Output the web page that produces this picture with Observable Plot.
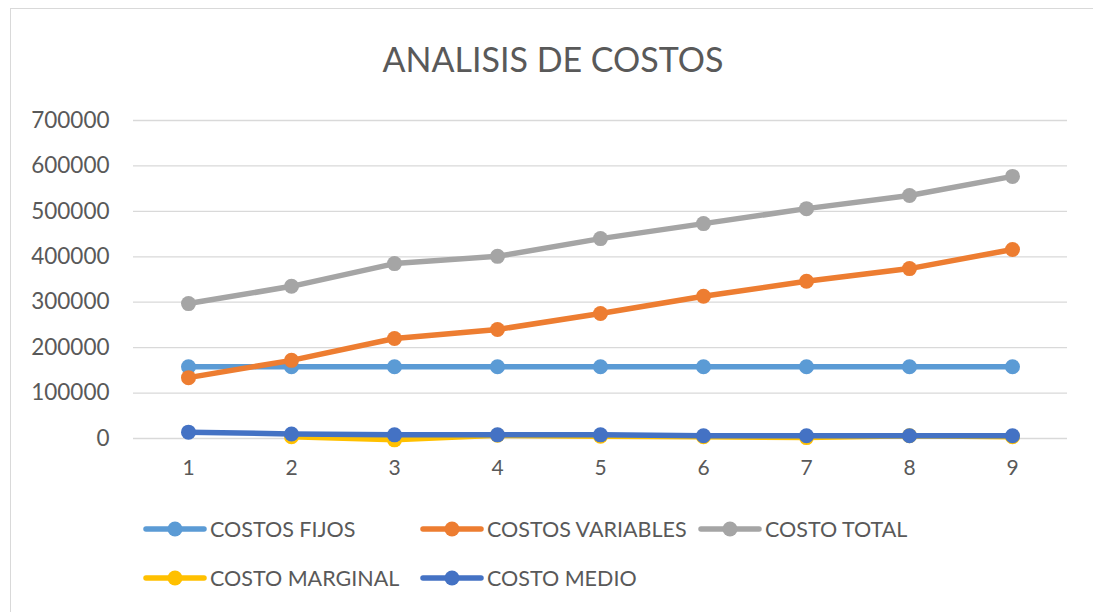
<!DOCTYPE html>
<html>
<head>
<meta charset="utf-8">
<script src="https://cdn.jsdelivr.net/npm/d3@7"></script>
<script src="https://cdn.jsdelivr.net/npm/@observablehq/plot@0.6"></script>
<style>
  body { margin: 0; background: #fff; }
  #wrap { position: relative; width: 1093px; height: 612px; overflow: hidden; font-family: Lato, "Open Sans", sans-serif; color: #595959; }
  #frame { position: absolute; left: 10px; top: 8px; width: 1100px; height: 620px; border: 1.5px solid #d9d9d9; box-sizing: border-box; }
  #title { position: absolute; left: 0; width: 1106px; top: 38px; text-align: center; font-size: 34px; color: #595959; }
  #chart { position: absolute; left: 0; top: 100px; }
  .leg { position: absolute; display: flex; align-items: center; font-size: 21.5px; color: #595959; white-space: nowrap; }
  .leg svg { margin-right: 3px; }
</style>
</head>
<body>
<div id="wrap">
  <div id="frame"></div>
  <div id="title">ANALISIS DE COSTOS</div>
  <div id="chart"></div>
  <div id="legend"></div>
</div>
<script>
const quantities = [1, 2, 3, 4, 5, 6, 7, 8, 9];
const costosFijos = [158000, 158000, 158000, 158000, 158000, 158000, 158000, 158000, 158000];
const costosVariables = [134000, 172000, 220000, 240000, 275000, 313000, 346000, 374000, 416000];
const costoTotal = [297000, 335000, 385000, 401000, 440000, 473000, 506000, 535000, 577000];
const costoMarginal = [null, 4000, -3000, 7000, 5000, 4000, 2000, 6000, 4000];
const costoMedio = [14000, 10000, 8000, 8000, 8000, 6000, 6000, 6000, 6000];
const yTicks = [0, 100000, 200000, 300000, 400000, 500000, 600000, 700000];

const series = [
  { name: "COSTOS FIJOS", values: costosFijos, color: "#5B9BD5" },
  { name: "COSTOS VARIABLES", values: costosVariables, color: "#ED7D31" },
  { name: "COSTO TOTAL", values: costoTotal, color: "#A5A5A5" },
  { name: "COSTO MARGINAL", values: costoMarginal, color: "#FFC000" },
  { name: "COSTO MEDIO", values: costoMedio, color: "#4472C4" }
];

const marks = [
  Plot.ruleY(yTicks, { stroke: "#d9d9d9", strokeWidth: 1.3 }),
  Plot.axisY(yTicks, { tickSize: 0, tickPadding: 24, tickFormat: d => String(d), fontSize: 22.5, fill: "#595959", label: null }),
  Plot.axisX(quantities, { tickSize: 0, tickPadding: 22, fontSize: 21, fill: "#595959", label: null })
];
for (const s of series) {
  const rows = quantities.map((q, i) => ({ q, v: s.values[i] })).filter(d => d.v !== null);
  marks.push(Plot.line(rows, { x: "q", y: "v", stroke: s.color, strokeWidth: 5.5, strokeLinejoin: "round" }));
  marks.push(Plot.dot(rows, { x: "q", y: "v", fill: s.color, r: 7.5 }));
}

const chart = Plot.plot({
  width: 1093,
  height: 380,
  marginLeft: 133,
  marginRight: 26,
  marginTop: 20,
  marginBottom: 42,
  x: { type: "point", domain: quantities, padding: 0.5, axis: null, label: null },
  y: { domain: [0, 700000], axis: null, label: null },
  style: { fontFamily: "Lato, 'Open Sans', sans-serif", background: "transparent", overflow: "visible" },
  marks
});
document.getElementById("chart").appendChild(chart);

const legendPos = [
  { left: 143, top: 512 }, { left: 420, top: 512 }, { left: 698, top: 512 },
  { left: 143, top: 561 }, { left: 420, top: 561 }
];
const leg = document.getElementById("legend");
series.forEach((s, i) => {
  const d = document.createElement("div");
  d.className = "leg";
  d.style.left = legendPos[i].left + "px";
  d.style.top = legendPos[i].top + "px";
  d.innerHTML = `<svg width="64" height="34"><line x1="3" y1="17" x2="61" y2="17" stroke="${s.color}" stroke-width="5.5" stroke-linecap="round"/><circle cx="32" cy="17" r="7.5" fill="${s.color}"/></svg><span>${s.name}</span>`;
  leg.appendChild(d);
});
</script>
</body>
</html>
